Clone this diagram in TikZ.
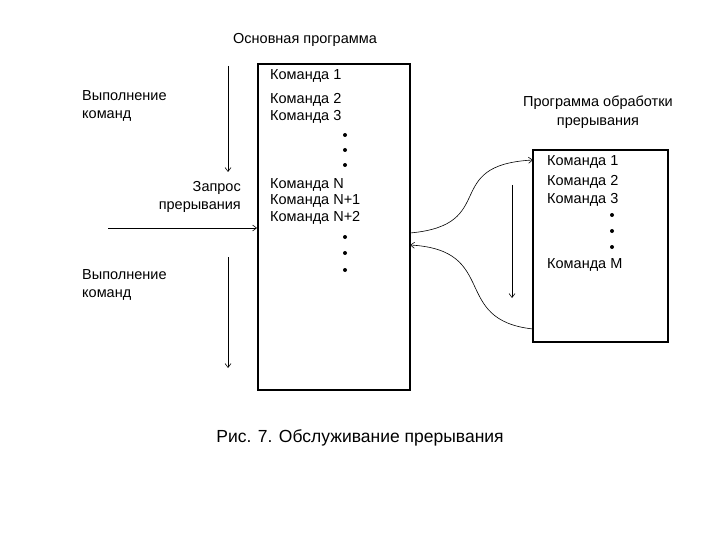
\documentclass[tikz,border=0pt]{standalone}
\usepackage{fontspec}
\setmainfont{Liberation Sans}
\usetikzlibrary{arrows.meta}
\begin{document}
\begin{tikzpicture}[x=1pt,y=-1pt,
  txt/.style={font=\fontsize{14.5}{18}\selectfont, inner sep=0pt, anchor=west},
  dot/.style={circle, fill=black, inner sep=0pt, minimum size=4pt},
  arr/.style={-{Straight Barb[length=4pt,width=6pt]}, line width=0.6pt},
  box/.style={draw, line width=1.6pt}]
\useasboundingbox (0,0) rectangle (720,540);
\node[box, minimum width=152pt, minimum height=326pt, inner sep=0pt] (main) at (334,227) {};
\node[box, minimum width=135pt, minimum height=192pt, inner sep=0pt] (isr) at (600.5,246) {};
\node[font=\fontsize{14.5}{18}\selectfont] (t1) at (305,40) {Основная программа};
\node[font=\fontsize{14.5}{19}\selectfont, align=center] (t2) at (598,112) {Программа обработки\\прерывания};
\foreach \n/\y/\s in {a/76/1, b/100/2, c/117/3} \node[txt] (m\n) at (270,\y) {Команда \s};
\node[txt] (mN) at (270,185) {Команда N};
\node[txt] (mN1) at (270,201) {Команда N+1};
\node[txt] (mN2) at (270,218) {Команда N+2};
\foreach \i/\y in {1/135,2/150,3/165,4/237,5/253,6/270} \node[dot] (md\i) at (345,\y) {};
\foreach \n/\y/\s in {a/162/1, b/182/2, c/200/3} \node[txt] (r\n) at (547,\y) {Команда \s};
\node[txt] (rM) at (547,265) {Команда М};
\foreach \i/\y in {1/215,2/231,3/247} \node[dot] (rd\i) at (612,\y) {};
\node[txt, align=left] (l1) at (82,106) {Выполнение\\команд};
\node[txt, align=left] (l2) at (82,285) {Выполнение\\команд};
\node[font=\fontsize{14.5}{18}\selectfont, align=right, anchor=east, inner sep=0pt] (q) at (241,197) {Запрос\\прерывания};
\coordinate (a1s) at (228,66); \coordinate (a1e) at (228,172);
\coordinate (a2s) at (228,257); \coordinate (a2e) at (228,368);
\coordinate (hs) at (108,228); \coordinate (he) at (257,228);
\coordinate (vs) at (512,185); \coordinate (ve) at (512,298);
\coordinate (c1s) at (410,233); \coordinate (c1e) at (533,160);
\coordinate (c2s) at (533,329); \coordinate (c2e) at (410,245);
\draw[arr] (a1s) -- (a1e);
\draw[arr] (a2s) -- (a2e);
\draw[arr] (hs) -- (he);
\draw[arr] (vs) -- (ve);
\draw[arr] (c1s) .. controls (500,225) and (440,165) .. (c1e);
\draw[arr] (c2s) .. controls (450,320) and (500,250) .. (c2e);
\node[font=\fontsize{17.5}{20}\selectfont] (cap) at (360,438) {Рис. 7. Обслуживание прерывания};
\end{tikzpicture}
\end{document}
